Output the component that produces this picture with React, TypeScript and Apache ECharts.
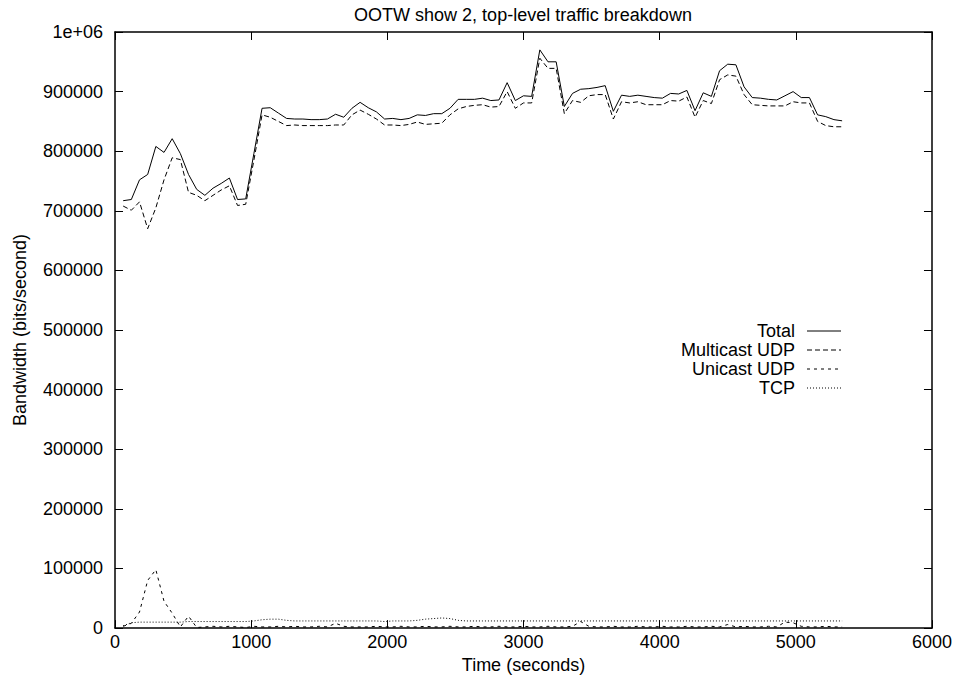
import React, { useEffect, useRef } from "react";
import * as echarts from "echarts";

const FONT = '"Liberation Sans", Arial, Helvetica, sans-serif';

const times = [
  60, 120, 180, 240, 300, 360, 420, 480, 540, 600,
  660, 720, 780, 840, 900, 960, 1020, 1080, 1140, 1200,
  1260, 1320, 1380, 1440, 1500, 1560, 1620, 1680, 1740, 1800,
  1860, 1920, 1980, 2040, 2100, 2160, 2220, 2280, 2340, 2400,
  2460, 2520, 2580, 2640, 2700, 2760, 2820, 2880, 2940, 3000,
  3060, 3120, 3180, 3240, 3300, 3360, 3420, 3480, 3540, 3600,
  3660, 3720, 3780, 3840, 3900, 3960, 4020, 4080, 4140, 4200,
  4260, 4320, 4380, 4440, 4500, 4560, 4620, 4680, 4740, 4800,
  4860, 4920, 4980, 5040, 5100, 5160, 5220, 5280, 5340,
];

const total = [
  717000, 719000, 752000, 761000, 808000, 798000, 821000, 796000, 761000, 736000,
  726000, 738000, 746000, 755000, 719000, 720000, 796000, 872000, 873000, 864000,
  855000, 854000, 854000, 853000, 853000, 854000, 862000, 857000, 872000, 882000,
  873000, 866000, 854000, 855000, 853000, 855000, 861000, 860000, 863000, 863000,
  872000, 887000, 887000, 887000, 889000, 885000, 886000, 915000, 885000, 893000,
  892000, 970000, 950000, 950000, 875000, 897000, 904000, 905000, 907000, 910000,
  867000, 894000, 892000, 894000, 892000, 890000, 889000, 897000, 896000, 902000,
  868000, 898000, 892000, 935000, 946000, 945000, 908000, 890000, 889000, 887000,
  886000, 893000, 900000, 890000, 890000, 861000, 858000, 853000, 851000,
];

const multicastUdp = [
  708000, 701000, 715000, 670000, 705000, 752000, 789000, 786000, 731000, 726000,
  717000, 726000, 735000, 742000, 709000, 711000, 785000, 861000, 857000, 850000,
  843000, 844000, 843000, 843000, 843000, 843000, 844000, 844000, 861000, 869000,
  862000, 854000, 844000, 844000, 843000, 845000, 849000, 845000, 846000, 847000,
  861000, 871000, 875000, 877000, 878000, 874000, 875000, 900000, 872000, 881000,
  881000, 956000, 939000, 939000, 863000, 885000, 882000, 893000, 895000, 895000,
  854000, 883000, 881000, 883000, 878000, 878000, 878000, 885000, 884000, 891000,
  857000, 885000, 880000, 920000, 928000, 926000, 895000, 878000, 877000, 876000,
  876000, 876000, 883000, 881000, 881000, 850000, 843000, 841000, 841000,
];

const unicastUdp = [
  3000, 8000, 27000, 80000, 98000, 45000, 25000, 2000, 20000, 1000,
  2000, 3000, 2000, 3000, 2000, 1000, 3000, 2000, 2000, 3000,
  2000, 3000, 2000, 2000, 3000, 2000, 8000, 3000, 2000, 2000,
  2000, 3000, 2000, 2000, 3000, 2000, 2000, 3000, 2000, 2000,
  3000, 2000, 2000, 3000, 2000, 2000, 3000, 2000, 2000, 3000,
  2000, 2000, 3000, 2000, 2000, 3000, 11000, 3000, 2000, 2000,
  3000, 2000, 2000, 3000, 2000, 2000, 3000, 2000, 2000, 3000,
  2000, 2000, 3000, 2000, 6000, 2000, 3000, 2000, 2000, 3000,
  2000, 10000, 9000, 3000, 2000, 2000, 3000, 2000, 2000,
];

const tcp = [
  4000, 9000, 10000, 10000, 10000, 10000, 10000, 10000, 11000, 11000,
  11000, 11000, 11000, 11000, 11000, 11000, 12000, 14000, 15000, 15000,
  13000, 12000, 12000, 12000, 12000, 12000, 12000, 12000, 12000, 12000,
  12000, 12000, 11000, 12000, 12000, 12000, 13000, 15000, 16000, 17000,
  16000, 13000, 12000, 12000, 12000, 12000, 12000, 12000, 12000, 12000,
  12000, 12000, 12000, 12000, 12000, 12000, 12000, 12000, 12000, 12000,
  12000, 12000, 12000, 12000, 12000, 12000, 12000, 12000, 12000, 12000,
  12000, 12000, 12000, 12000, 12000, 12000, 12000, 12000, 12000, 12000,
  12000, 12000, 12000, 12000, 12000, 12000, 12000, 12000, 12000,
];

const seriesNames = ["Total", "Multicast UDP", "Unicast UDP", "TCP"];
const seriesValues = [total, multicastUdp, unicastUdp, tcp];
const seriesDash: (number[] | "solid")[] = ["solid", [5, 3], [3, 4], [1, 2]];

const xTicks = { min: 0, max: 6000, interval: 1000 };
const yTicks = { min: 0, max: 1000000, interval: 100000 };

export default function App() {
  const ref = useRef<HTMLDivElement>(null);
  useEffect(() => {
    if (!ref.current) return;
    const chart = echarts.init(ref.current, undefined, { renderer: "svg" });

    const axisLine = { show: true, onZero: false, lineStyle: { color: "#000", width: 1.5 } };
    const axisTick = { show: true, inside: true, length: 8, lineStyle: { color: "#000", width: 1 } };
    const labelStyle = { color: "#000", fontSize: 18, fontFamily: FONT };

    const legendGraphics: any[] = [];
    const legendY = [331, 350, 369, 388];
    seriesNames.forEach((name, i) => {
      legendGraphics.push({
        type: "text",
        x: 795,
        y: legendY[i],
        style: {
          text: name,
          fill: "#000",
          font: `18px ${FONT}`,
          textAlign: "right",
          textVerticalAlign: "middle",
        },
      });
      legendGraphics.push({
        type: "line",
        shape: { x1: 807, y1: legendY[i], x2: 841, y2: legendY[i] },
        style: {
          stroke: "#000",
          lineWidth: 1,
          lineDash: seriesDash[i] === "solid" ? null : seriesDash[i],
        },
      });
    });

    const option: any = {
      animation: false,
      backgroundColor: "#fff",
      grid: { left: 115, right: 23, top: 32, bottom: 49, containLabel: false },
      graphic: [
        {
          type: "text",
          x: 523,
          y: 15,
          style: {
            text: "OOTW show 2, top-level traffic breakdown",
            fill: "#000",
            font: `18px ${FONT}`,
            textAlign: "center",
            textVerticalAlign: "middle",
          },
        },
        ...legendGraphics,
      ],
      xAxis: [
        {
          type: "value",
          position: "bottom",
          ...xTicks,
          axisLine,
          axisTick,
          splitLine: { show: false },
          axisLabel: { ...labelStyle, margin: 5, formatter: (v: number) => String(v) },
          name: "Time (seconds)",
          nameLocation: "middle",
          nameGap: 24,
          nameTextStyle: labelStyle,
        },
        {
          type: "value",
          position: "top",
          ...xTicks,
          axisLine,
          axisTick,
          splitLine: { show: false },
          axisLabel: { show: false },
        },
      ],
      yAxis: [
        {
          type: "value",
          position: "left",
          ...yTicks,
          axisLine,
          axisTick,
          splitLine: { show: false },
          axisLabel: {
            ...labelStyle,
            margin: 12,
            formatter: (v: number) => (v === 1000000 ? "1e+06" : String(v)),
          },
          name: "Bandwidth (bits/second)",
          nameLocation: "middle",
          nameGap: 86,
          nameRotate: 90,
          nameTextStyle: labelStyle,
        },
        {
          type: "value",
          position: "right",
          ...yTicks,
          axisLine,
          axisTick,
          splitLine: { show: false },
          axisLabel: { show: false },
        },
      ],
      series: seriesNames.map((name, i) => ({
        name,
        type: "line",
        xAxisIndex: 0,
        yAxisIndex: 0,
        symbol: "none",
        showSymbol: false,
        silent: true,
        lineStyle: { color: "#000", width: 1, type: seriesDash[i] },
        data: times.map((t, k) => [t, seriesValues[i][k]]),
      })),
    };
    chart.setOption(option);
    return () => chart.dispose();
  }, []);

  return (
    <div
      ref={ref}
      style={{ position: "fixed", left: 0, top: 0, width: 955, height: 679, background: "#fff" }}
    />
  );
}
